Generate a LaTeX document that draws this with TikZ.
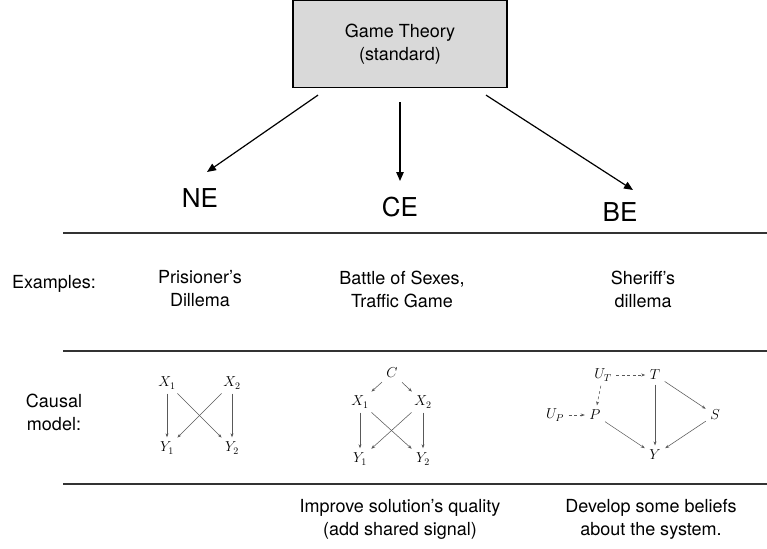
\documentclass[tikz,border=0pt]{standalone}
\usepackage{fontspec}
\setmainfont{TeX Gyre Heros}
\usetikzlibrary{arrows.meta,calc}

\begin{document}
\begin{tikzpicture}[x=1pt,y=-1pt,
      txt/.style={align=center,font=\fontsize{18}{23}\selectfont,inner sep=0pt},
      eqlbl/.style={font=\fontsize{26}{30}\selectfont,inner sep=0pt},
      var/.style={font=\fontsize{14}{16}\selectfont,inner sep=3.5pt},
      rule/.style={line width=1.3pt,draw=black!80},
      arr/.style={-{Triangle[length=9pt,width=7.5pt]},line width=1.2pt},
      carr/.style={-{Stealth[length=4pt,width=3pt]},draw=black!65,
                   line width=0.55pt,shorten <=1pt,shorten >=1pt},
      darr/.style={carr,dash pattern=on 3pt off 2.5pt}]
    \useasboundingbox (0,0) rectangle (767,548);
    % top box and the three equilibria
    \node[draw,line width=1.2pt,fill=black!15,minimum width=214pt,
          minimum height=87pt,txt] (game) at (400,44) {Game Theory\\(standard)};
    \node[eqlbl] (ne) at (200,198) {NE};
    \node[eqlbl] (ce) at (400,207) {CE};
    \node[eqlbl] (be) at (620,212) {BE};
    \draw[arr] ($(game.south)+(-82,7)$) -- ($(ne)+(7,-26)$);
    \draw[arr] ($(game.south)+(0,14)$) -- ($(ce)+(0,-26)$);
    \draw[arr] ($(game.south)+(86,7)$) -- ($(be)+(13,-22)$);
    % rules
    \draw[rule] (63,233) -- (767,233);
    \draw[rule] (63,351) -- (767,351);
    \draw[rule] (63,484) -- (767,484);
    % examples row
    \node[txt] (exlbl) at (54,284) {Examples:};
    \node[txt] (ex1) at (200,289) {Prisioner’s\\Dillema};
    \node[txt] (ex2) at (402,289) {Battle of Sexes,\\Traffic Game};
    \node[txt] (ex3) at (643,289) {Sheriff’s\\dillema};
    % causal models
    \node[txt] (cmlbl) at (54,412) {Causal\\model:};
    \node[var] (nx1) at (167,383) {$X_1$};
    \node[var] (nx2) at (232,383) {$X_2$};
    \node[var] (ny1) at (167,448) {$Y_1$};
    \node[var] (ny2) at (232,448) {$Y_2$};
    \draw[carr] (nx1) -- (ny1);
    \draw[carr] (nx1) -- (ny2);
    \draw[carr] (nx2) -- (ny1);
    \draw[carr] (nx2) -- (ny2);
    \node[var] (cc) at (392,373) {$C$};
    \node[var] (cx1) at (360,402) {$X_1$};
    \node[var] (cx2) at (423,402) {$X_2$};
    \node[var] (cy1) at (360,459) {$Y_1$};
    \node[var] (cy2) at (423,459) {$Y_2$};
    \draw[carr] (cc) -- (cx1);
    \draw[carr] (cc) -- (cx2);
    \draw[carr] (cx1) -- (cy1);
    \draw[carr] (cx1) -- (cy2);
    \draw[carr] (cx2) -- (cy1);
    \draw[carr] (cx2) -- (cy2);
    \node[var] (ut) at (603,375) {$U_T$};
    \node[var] (bt) at (655,375) {$T$};
    \node[var] (up) at (555,415) {$U_P$};
    \node[var] (bp) at (595,415) {$P$};
    \node[var] (bs) at (715,415) {$S$};
    \node[var] (by) at (655,455) {$Y$};
    \draw[darr] (ut) -- (bt);
    \draw[darr] (ut) -- (bp);
    \draw[darr] (up) -- (bp);
    \draw[carr] (bt) -- (by);
    \draw[carr] (bt) -- (bs);
    \draw[carr] (bp) -- (by);
    \draw[carr] (bs) -- (by);
    % last row
    \node[txt] (imp2) at (400,519) {Improve solution’s quality\\(add shared signal)};
    \node[txt] (imp3) at (651,519) {Develop some beliefs\\about the system.};
  \end{tikzpicture}
\end{document}
